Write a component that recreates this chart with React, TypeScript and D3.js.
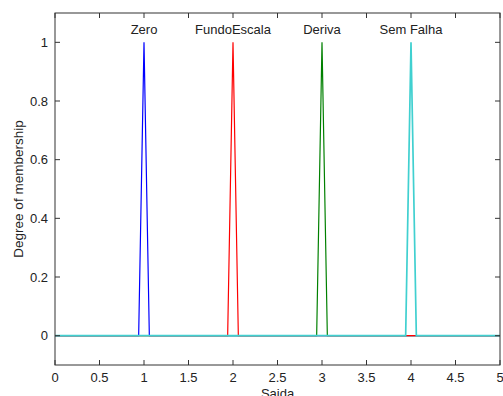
import React, { useEffect, useRef } from "react";
import * as d3 from "d3";

// membership functions (triangular: left foot, peak, right foot)
const mfNames = ["Zero", "FundoEscala", "Deriva", "Sem Falha"];
const mfParams = [
  [0.94, 1, 1.06],
  [1.94, 2, 2.06],
  [2.94, 3, 3.06],
  [3.94, 4, 4.06],
];
const mfColors = ["#0000ff", "#ff0000", "#008000", "#40d0d0"];
const drawOrder = [0, 2, 1, 3];
const xTicks = [0, 0.5, 1, 1.5, 2, 2.5, 3, 3.5, 4, 4.5, 5];
const yTicks = [0, 0.2, 0.4, 0.6, 0.8, 1];

const App = () => {
  const ref = useRef<SVGSVGElement>(null);

  useEffect(() => {
    const svg = d3.select(ref.current);
    svg.selectAll("*").remove();

    const left = 55, right = 500, top = 13, bottom = 365;
    const x = d3.scaleLinear().domain([0, 5]).range([left, right]);
    const y = d3.scaleLinear().domain([-0.1, 1.1]).range([bottom, top]);
    const font = "Arial, 'Liberation Sans', sans-serif";
    const fs = 13;

    const line = d3
      .line<[number, number]>()
      .x((d) => x(d[0]))
      .y((d) => y(d[1]));

    // curves (last one drawn covers the shared zero line)
    drawOrder.forEach((i, k) => {
      const [a, b, c] = mfParams[i];
      const pts: [number, number][] = [
        [0, 0],
        [a, 0],
        [b, 1],
        [c, 0],
        [5, 0],
      ];
      svg
        .append("path")
        .attr("d", line(pts))
        .attr("fill", "none")
        .attr("stroke", mfColors[i])
        .attr("stroke-width", k === drawOrder.length - 1 ? 1.7 : 1.2);
    });

    // labels above peaks
    mfNames.forEach((name, i) => {
      svg
        .append("text")
        .attr("x", x(mfParams[i][1]))
        .attr("y", 34)
        .attr("text-anchor", "middle")
        .attr("font-family", font)
        .attr("font-size", fs)
        .attr("fill", "#222")
        .text(name);
    });

    // axes box
    svg
      .append("rect")
      .attr("x", left)
      .attr("y", top)
      .attr("width", right - left)
      .attr("height", bottom - top)
      .attr("fill", "none")
      .attr("stroke", "#333")
      .attr("stroke-width", 1);

    const tl = 5;
    xTicks.forEach((t) => {
      svg.append("line")
        .attr("x1", x(t)).attr("x2", x(t))
        .attr("y1", bottom).attr("y2", bottom - tl)
        .attr("stroke", "#333");
      svg.append("line")
        .attr("x1", x(t)).attr("x2", x(t))
        .attr("y1", top).attr("y2", top + tl)
        .attr("stroke", "#333");
      svg.append("text")
        .attr("x", x(t))
        .attr("y", bottom + 17)
        .attr("text-anchor", "middle")
        .attr("font-family", font)
        .attr("font-size", fs)
        .attr("fill", "#222")
        .text(String(t));
    });

    yTicks.forEach((t) => {
      svg.append("line")
        .attr("x1", left).attr("x2", left + tl)
        .attr("y1", y(t)).attr("y2", y(t))
        .attr("stroke", "#333");
      svg.append("line")
        .attr("x1", right).attr("x2", right - tl)
        .attr("y1", y(t)).attr("y2", y(t))
        .attr("stroke", "#333");
      svg.append("text")
        .attr("x", left - 7)
        .attr("y", y(t) + 4.5)
        .attr("text-anchor", "end")
        .attr("font-family", font)
        .attr("font-size", fs)
        .attr("fill", "#222")
        .text(String(t));
    });

    // axis labels
    svg.append("text")
      .attr("x", x(2.5))
      .attr("y", 398)
      .attr("text-anchor", "middle")
      .attr("font-family", font)
      .attr("font-size", fs)
      .attr("fill", "#222")
      .text("Saida");

    svg.append("text")
      .attr("transform", `translate(23,${(top + bottom) / 2}) rotate(-90)`)
      .attr("text-anchor", "middle")
      .attr("font-family", font)
      .attr("font-size", 13.5)
      .attr("fill", "#222")
      .text("Degree of membership");
  }, []);

  return (
    <div style={{ position: "absolute", left: 0, top: 0 }}>
      <svg ref={ref} width={503} height={396} style={{ display: "block", background: "#fff" }} />
    </div>
  );
};

export default App;
